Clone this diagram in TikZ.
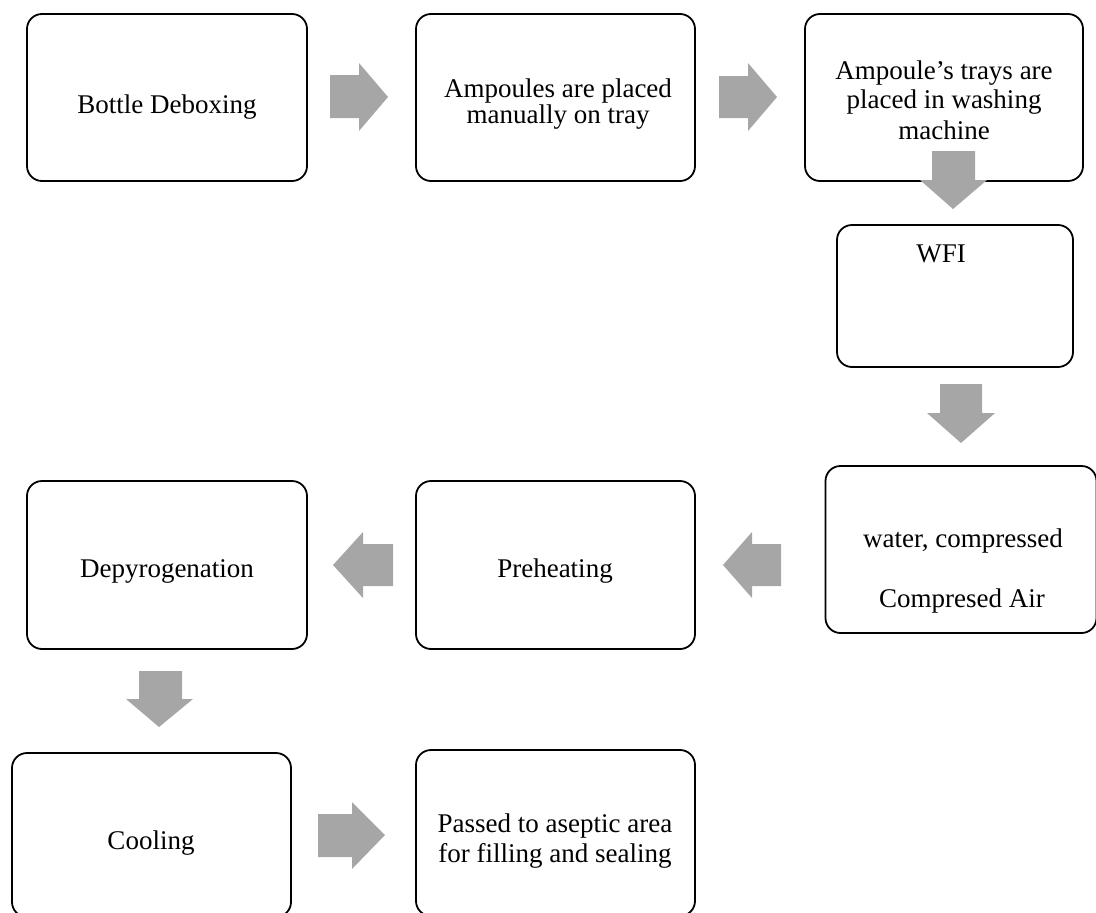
\documentclass[tikz,border=0pt]{standalone}
\usepackage{fontspec}
\setmainfont{Liberation Serif}
\begin{document}
\begin{tikzpicture}[x=1pt,y=-1pt,
  stepbox/.style={draw=black, line width=1.8pt, rounded corners=15pt,
    rectangle, inner sep=0pt, fill=none},
  steptext/.style={inner sep=0pt, align=center, anchor=base,
    font=\fontsize{27pt}{29pt}\selectfont},
  blockarrow/.style={fill=arrowgray, draw=none}]
\definecolor{arrowgray}{RGB}{166,166,166}
\useasboundingbox (0,0) rectangle (1096,913);

% process boxes
\node[stepbox, minimum width=280pt, minimum height=167pt] (deboxing)  at (167,97.5) {};
\node[stepbox, minimum width=279pt, minimum height=167pt] (placing)   at (555.5,97.5) {};
\node[stepbox, minimum width=278pt, minimum height=167pt] (washer)    at (944,97.5) {};
\node[stepbox, minimum width=236pt, minimum height=142pt] (wfi)       at (955,296) {};
\node[stepbox, minimum width=271pt, minimum height=167pt] (air)       at (961,549.5) {};
\node[stepbox, minimum width=279pt, minimum height=168pt] (preheat)   at (555.5,565) {};
\node[stepbox, minimum width=280pt, minimum height=168pt] (depyro)    at (167,565) {};
\node[stepbox, minimum width=279pt, minimum height=164pt] (cooling)   at (151.5,835) {};
\node[stepbox, minimum width=279pt, minimum height=166pt] (aseptic)   at (555.5,833) {};

% box texts
\node[steptext] (t-deboxing) at (167,113) {Bottle Deboxing};
\node[steptext] (t-placing1) at (558,97) {Ampoules are placed};
\node[steptext] (t-placing2) at (558,123) {manually on tray};
\node[steptext] (t-washer1)  at (944,79) {Ampoule’s trays are};
\node[steptext] (t-washer2)  at (944,108) {placed in washing};
\node[steptext] (t-washer3)  at (944,139) {machine};
\node[steptext] (t-wfi)      at (941,262) {WFI};
\node[steptext] (t-air1)     at (963,547) {water, compressed};
\node[steptext] (t-air2)     at (962,607) {Compresed Air};
\node[steptext] (t-preheat)  at (555,577) {Preheating};
\node[steptext] (t-depyro)   at (167,577) {Depyrogenation};
\node[steptext] (t-cooling)  at (151,849) {Cooling};
\node[steptext] (t-aseptic1) at (555,832) {Passed to aseptic area};
\node[steptext] (t-aseptic2) at (555,862) {for filling and sealing};

% block arrows between the steps
\fill[blockarrow] (330,75) -- (359,75) -- (359,63) -- (388,97) -- (359,131) -- (359,118) -- (330,118) -- cycle;
\fill[blockarrow] (719,76) -- (748,76) -- (748,63) -- (777,97) -- (748,131) -- (748,118) -- (719,118) -- cycle;
\fill[blockarrow] (932,151) -- (975,151) -- (975,180) -- (987,180) -- (953,209) -- (920,180) -- (932,180) -- cycle;
\fill[blockarrow] (940,384) -- (982,384) -- (982,413) -- (995,413) -- (961,443) -- (927,413) -- (940,413) -- cycle;
\fill[blockarrow] (781,544) -- (752,544) -- (752,532) -- (723,565) -- (752,598) -- (752,586) -- (781,586) -- cycle;
\fill[blockarrow] (393,544) -- (363,544) -- (363,532) -- (333,565) -- (363,598) -- (363,586) -- (393,586) -- cycle;
\fill[blockarrow] (139,671) -- (182,671) -- (182,699) -- (193,699) -- (159,727) -- (126,699) -- (139,699) -- cycle;
\fill[blockarrow] (318,814) -- (352,814) -- (352,802) -- (385,835) -- (352,869) -- (352,857) -- (318,857) -- cycle;
\end{tikzpicture}
\end{document}
